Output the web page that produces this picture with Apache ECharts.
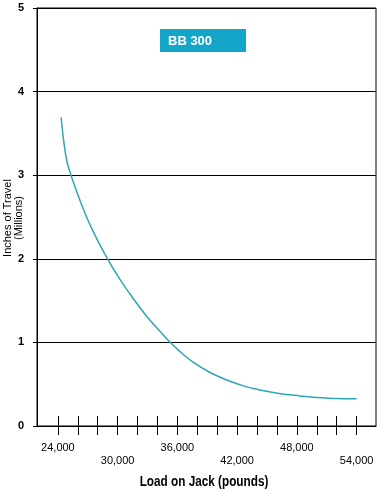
<!DOCTYPE html>
<html>
<head>
<meta charset="utf-8">
<script src="https://cdn.jsdelivr.net/npm/echarts@6/dist/echarts.min.js"></script>
<style>
html,body{margin:0;padding:0;background:#fff;}
#c{width:379px;height:491px;}
</style>
</head>
<body>
<div id="c"></div>
<script>
// Data
var loads  = [24330, 24560, 24900, 25400, 26570, 27570, 28980, 30250, 31590, 32930, 34270, 35200, 36270, 37610, 39280, 40960, 42630, 44300, 46200, 48300, 50000, 51700, 53000, 54000];
var travel = [3.69, 3.43, 3.17, 2.97, 2.59, 2.32, 2.00, 1.75, 1.52, 1.31, 1.13, 1.01, 0.89, 0.76, 0.64, 0.55, 0.48, 0.43, 0.39, 0.36, 0.34, 0.33, 0.325, 0.325];
var xTicks = [24000, 26000, 28000, 30000, 32000, 34000, 36000, 38000, 40000, 42000, 44000, 46000, 48000, 50000, 52000, 54000];
var xLabels = [24000, 30000, 36000, 42000, 48000, 54000];
var yTicks = [0, 1, 2, 3, 4, 5];
var seriesName = 'BB 300';
var xTitle = 'Load on Jack (pounds)';
var yTitle = 'Inches of Travel\n(Millions)';

var FONT = "'Liberation Sans', Arial, sans-serif";
var points = loads.map(function (v, i) { return [v, travel[i]]; });

var chart = echarts.init(document.getElementById('c'));
chart.setOption({
  animation: false,
  grid: {left: 37, right: 3, top: 8, bottom: 65, show: true, borderColor: '#000', borderWidth: 1, backgroundColor: 'transparent'},
  xAxis: [{
    type: 'value', min: 21900, max: 55950,
    axisLine: {show: true, lineStyle: {color: '#000', width: 1}},
    axisTick: {show: true, customValues: xTicks, length: 9, inside: false, lineStyle: {color: '#000', width: 1}},
    axisLabel: {
      customValues: xLabels, margin: 15, color: '#000', fontFamily: FONT, fontSize: 11, lineHeight: 13,
      formatter: function (v) {
        var idx = xLabels.indexOf(v);
        var s = echarts.format.addCommas(v);
        return idx % 2 === 1 ? '\n' + s : s;
      }
    },
    splitLine: {show: false}
  }, {
    type: 'value', min: 21900, max: 55950, position: 'bottom',
    axisLine: {show: false},
    axisTick: {show: true, customValues: xTicks, length: 10, inside: true, lineStyle: {color: '#000', width: 1}},
    axisLabel: {show: false},
    splitLine: {show: false}
  }],
  yAxis: {
    type: 'value', min: yTicks[0], max: yTicks[yTicks.length - 1], interval: 1,
    axisLine: {show: true, lineStyle: {color: '#000', width: 1}},
    axisTick: {show: true, length: 4, lineStyle: {color: '#000', width: 1}},
    axisLabel: {margin: 13, color: '#000', fontFamily: FONT, fontSize: 11, fontWeight: 'bold'},
    splitLine: {show: true, lineStyle: {color: '#000', width: 1}}
  },
  graphic: [
    {type: 'rect', shape: {x: 160, y: 29, width: 86, height: 23}, style: {fill: '#14a6c8'}, z: 10},
    {type: 'text', x: 168, y: 41, style: {text: seriesName, fill: '#fff', font: 'bold 13px ' + FONT, verticalAlign: 'middle', align: 'left'}, z: 11},
    {type: 'text', x: 13, y: 218, rotation: Math.PI / 2, style: {text: yTitle, fill: '#000', font: '11px ' + FONT, align: 'center', verticalAlign: 'middle', lineHeight: 11}, z: 11},
    {type: 'text', x: 204, y: 482, scaleX: 0.84, style: {text: xTitle, fill: '#000', font: 'bold 14px ' + FONT, align: 'center', verticalAlign: 'middle'}, z: 11}
  ],
  series: [{
    name: seriesName, type: 'line', data: points, smooth: 0.4, showSymbol: false,
    lineStyle: {color: '#2ea7b5', width: 1.5}
  }]
});
</script>
</body>
</html>
